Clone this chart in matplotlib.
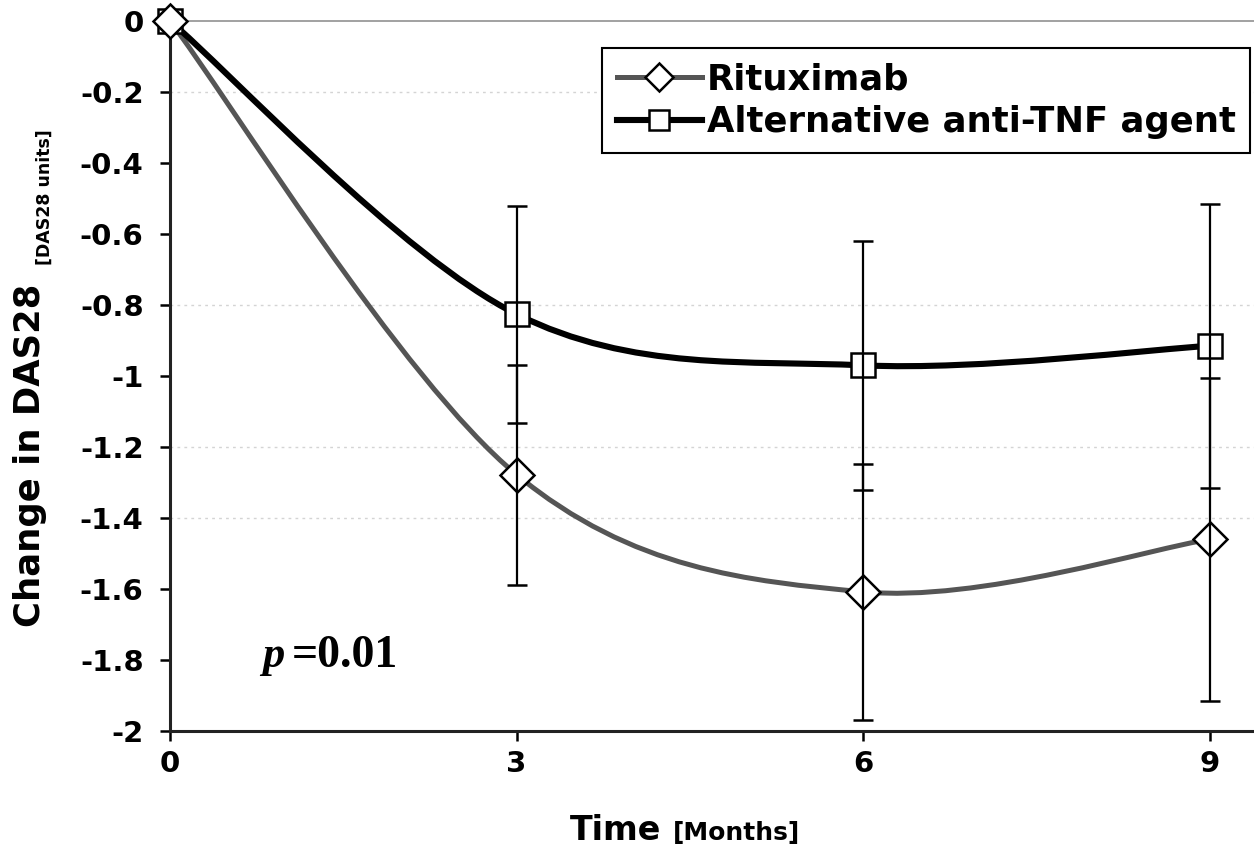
import numpy as np
import matplotlib
matplotlib.use("Agg")
import matplotlib.pyplot as plt
from matplotlib.path import Path
from matplotlib.patches import PathPatch
from matplotlib.lines import Line2D

# ---- data ----
months = [0, 3, 6, 9]
rituximab_mean = [0.0, -1.278, -1.608, -1.460]
rituximab_err = [0.0, 0.310, 0.360, 0.455]
tnf_mean = [0.0, -0.826, -0.970, -0.915]
tnf_err = [0.0, 0.305, 0.350, 0.400]

yticks = [0, -0.2, -0.4, -0.6, -0.8, -1, -1.2, -1.4, -1.6, -1.8, -2]
ytick_labels = ["0", "-0.2", "-0.4", "-0.6", "-0.8", "-1", "-1.2", "-1.4", "-1.6", "-1.8", "-2"]
xtick_labels = ["0", "3", "6", "9"]
grid_levels = [-0.2, -0.8, -1.2, -1.4]
series_labels = ["Rituximab", "Alternative anti-TNF agent"]

plt.rcParams["font.family"] = ["DejaVu Sans"]
plt.rcParams["font.weight"] = "bold"

W, H = 1254, 852
fig = plt.figure(figsize=(W / 100, H / 100), dpi=100)
ax = fig.add_axes([170 / W, 1 - 731 / H, 1 - 170 / W, (731 - 21) / H])
ax.set_xlim(0, 9.381)
ax.set_ylim(-2, 0)


def smooth_path(x, y):
    """Excel-style smoothed line (Catmull-Rom Bezier) through the data points."""
    pts = np.column_stack([x, y]).astype(float)
    n = len(pts)
    verts = [pts[0]]
    codes = [Path.MOVETO]
    for i in range(n - 1):
        p_prev = pts[max(i - 1, 0)]
        p0 = pts[i]
        p1 = pts[i + 1]
        p_next = pts[min(i + 2, n - 1)]
        c1 = p0 + (p1 - p_prev) / 6.0
        c2 = p1 - (p_next - p0) / 6.0
        verts += [c1, c2, p1]
        codes += [Path.CURVE4] * 3
    return Path(verts, codes)


rit_color = "#555555"
tnf_color = "#000000"

# grid lines
for g in grid_levels:
    ax.axhline(g, color="#d4d4d4", lw=1.0, ls=(0, (2, 3)), zorder=0)
ax.axhline(0, color="#9a9a9a", lw=1.3, zorder=0, clip_on=False)

# smoothed lines
ax.add_patch(PathPatch(smooth_path(months, rituximab_mean), facecolor="none",
                       edgecolor=rit_color, lw=3.6, capstyle="round",
                       joinstyle="round", zorder=2))
ax.add_patch(PathPatch(smooth_path(months, tnf_mean), facecolor="none",
                       edgecolor=tnf_color, lw=4.4, capstyle="round",
                       joinstyle="round", zorder=2.5))

# markers
ax.plot(months, tnf_mean, ls="none", marker="s", ms=17.5, mfc="white",
        mec="black", mew=1.8, clip_on=False, zorder=3)
ax.plot(months, rituximab_mean, ls="none", marker="D", ms=17, mfc="white",
        mec="black", mew=1.8, clip_on=False, zorder=3.5)

# error bars
ax.errorbar(months[1:], tnf_mean[1:], yerr=tnf_err[1:], fmt="none",
            ecolor="black", elinewidth=1.6, capsize=7.5, capthick=1.8, zorder=5)
ax.errorbar(months[1:], rituximab_mean[1:], yerr=rituximab_err[1:], fmt="none",
            ecolor="black", elinewidth=1.6, capsize=7.5, capthick=1.8, zorder=5)

# axes styling
for s in ["top", "right"]:
    ax.spines[s].set_visible(False)
for s in ["left", "bottom"]:
    ax.spines[s].set_linewidth(2.2)
    ax.spines[s].set_color("#222222")

ax.set_yticks(yticks)
ax.set_yticklabels(ytick_labels, fontsize=21, fontweight="bold")
ax.set_xticks(months)
ax.set_xticklabels(xtick_labels, fontsize=21, fontweight="bold")
ax.tick_params(axis="y", direction="out", length=7, width=1.8, pad=12, colors="black")
ax.tick_params(axis="x", direction="out", length=7, width=1.8, pad=7, colors="black")

# axis labels
fig.text(30 / W, 1 - 455 / H, "Change in DAS28", rotation=90, fontsize=25.5,
         fontweight="bold", ha="center", va="center")
fig.text(45 / W, 1 - 197 / H, "[DAS28 units]", rotation=90, fontsize=12.5,
         fontweight="bold", ha="center", va="center")
fig.text(570 / W, 1 - 840 / H, "Time", fontsize=24, fontweight="bold",
         ha="left", va="baseline")
fig.text(673 / W, 1 - 840 / H, "[Months]", fontsize=18, fontweight="bold",
         ha="left", va="baseline")

# p-value
fig.text(262 / W, 1 - 667 / H, "p", fontsize=32, family="Liberation Serif",
         style="italic", fontweight="bold", ha="left", va="baseline")
fig.text(292 / W, 1 - 667 / H, "=0.01", fontsize=33, family="Liberation Serif",
         fontweight="bold", ha="left", va="baseline")

# legend
handles = [
    Line2D([], [], color=rit_color, lw=3.6, marker="D", ms=14, mfc="white",
           mec="black", mew=1.8),
    Line2D([], [], color=tnf_color, lw=4.4, marker="s", ms=14, mfc="white",
           mec="black", mew=1.8),
]
leg = ax.legend(handles, series_labels,
                loc="upper right", bbox_to_anchor=(1250 / W, 1 - 48 / H),
                bbox_transform=fig.transFigure, borderaxespad=0,
                frameon=True, fancybox=False, framealpha=1,
                edgecolor="black", handlelength=2.4, handletextpad=0.15,
                labelspacing=0.25, borderpad=0.4,
                prop={"weight": "bold", "size": 25.5})
leg.get_frame().set_linewidth(1.5)

fig.savefig("out.png", dpi=100, facecolor="white")
